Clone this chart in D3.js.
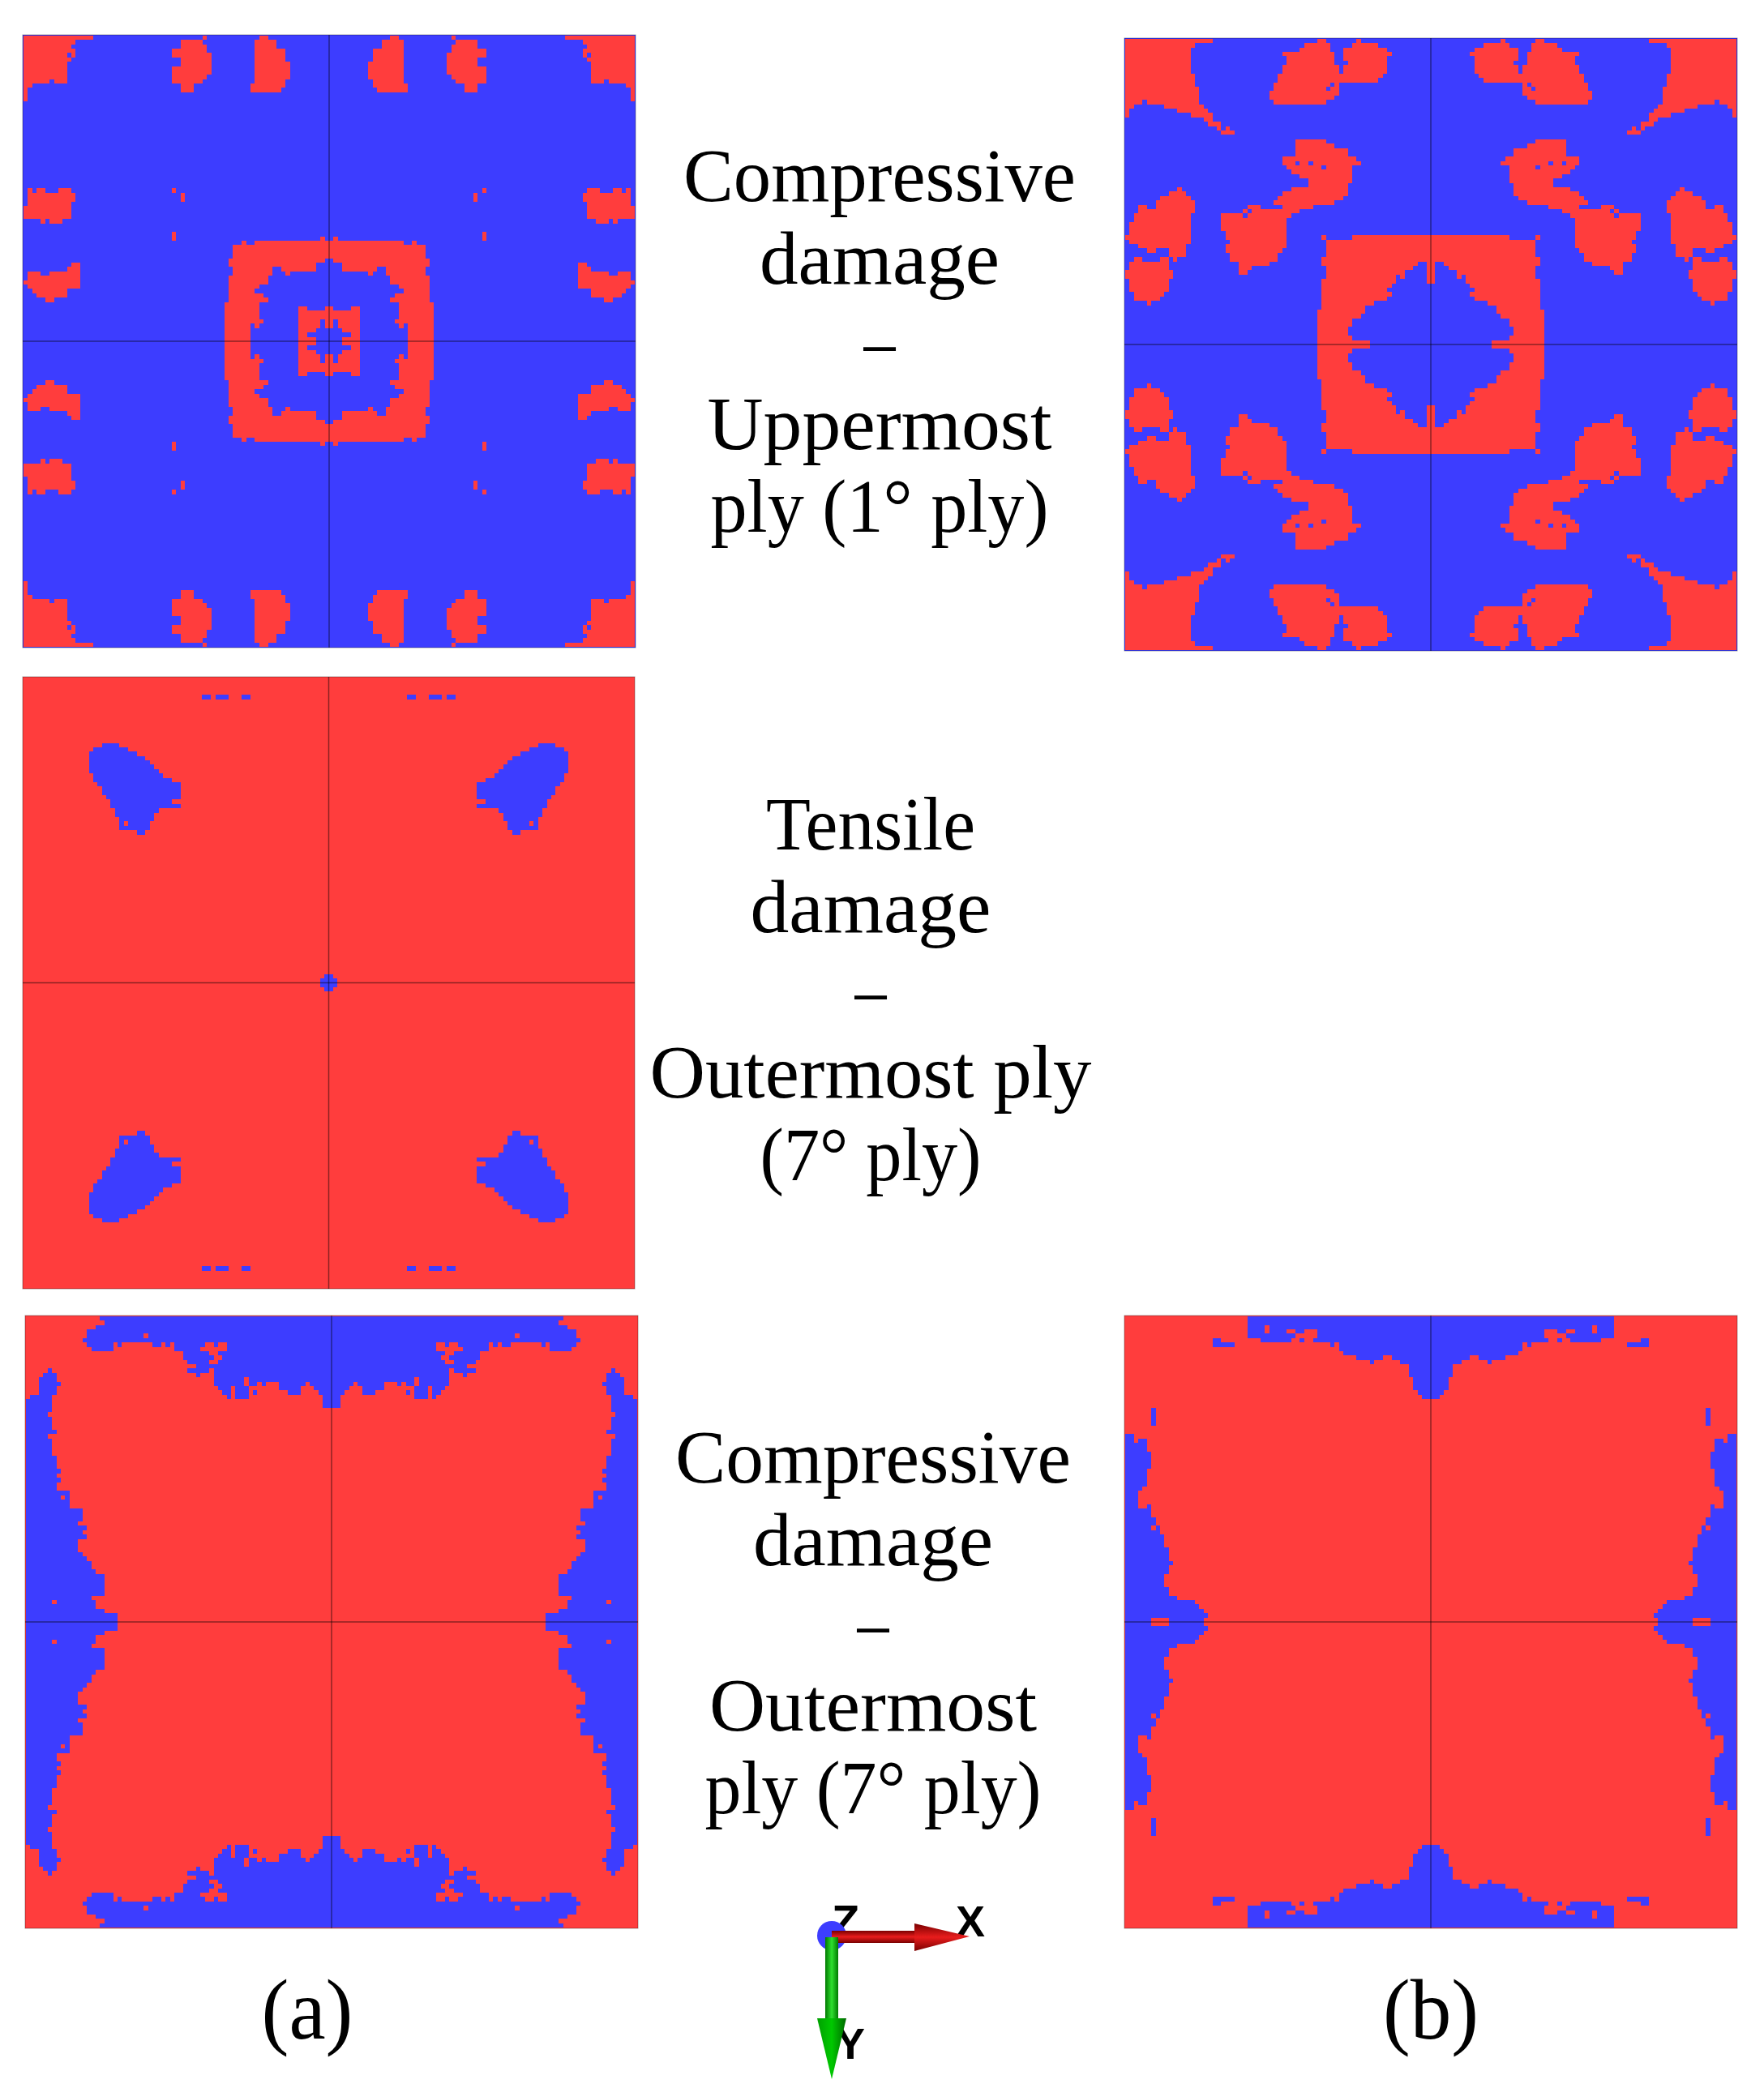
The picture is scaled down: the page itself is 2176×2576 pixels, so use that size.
<!DOCTYPE html>
<html>
<head>
<meta charset="utf-8">
<script src="https://cdn.jsdelivr.net/npm/d3@7"></script>
<style>
  html, body { margin: 0; padding: 0; background: #fff; }
  svg { display: block; }
</style>
</head>
<body>
<svg id="chart" width="2176" height="2576"></svg>
<script>
// small rectangle region, corners in read-off units
function box(x0, y0, x1, y1) {
    return [[x0, y0], [x1, y0], [x1, y1], [x0, y1]];
}

// Regions are traced on the top-left quadrant of every panel, the other three are mirrored.
// Overlapping regions flip the colour, so a region inside a region is a hole.

// (a) compressive damage, uppermost ply: red on blue
const a1Regions = [
    [[25,25],[290,25],[290,40],[225,40],[225,58],[207,58],[207,75],[225,75],[225,108],[207,108],[207,123],[190,123],[190,205],[143,205],[143,190],[125,190],[125,205],[62,205],[62,222],[45,222],[45,270],[25,270]],
    box(190,90,207,108),
    box(685,25,700,40),
    [[603,42],[685,42],[685,58],[700,58],[700,90],[717,90],[717,172],[700,172],[700,188],[685,188],[685,205],[667,205],[667,222],[652,222],[652,240],[603,240],[603,207],[585,207],[585,140],[603,140],[603,108],[585,108],[585,75],[603,75]],
    [[900,25],[930,25],[930,42],[963,42],[963,75],[995,75],[995,123],[1011,123],[1011,188],[995,188],[995,222],[978,222],[978,240],[862,240],[862,207],[880,207],[880,42],[900,42]],
    [[45,585],[62,585],[62,600],[78,600],[78,585],[108,585],[108,600],[160,600],[160,585],[207,585],[207,600],[225,600],[225,648],[207,648],[207,698],[175,698],[175,715],[127,715],[127,700],[110,700],[110,715],[94,715],[94,698],[25,698],[25,650],[45,650]],
    [[585,585],[600,585],[600,600],[634,600],[634,648],[603,648],[603,615],[585,615]],
    box(585,747,602,780),
    [[45,895],[94,895],[94,912],[127,912],[127,895],[190,895],[190,878],[207,878],[207,862],[240,862],[240,958],[190,958],[190,992],[143,992],[143,1010],[110,1010],[110,992],[78,992],[78,975],[62,975],[62,958],[45,958],[45,943],[28,943],[28,928],[45,928]],
    [[798,797],[830,797],[830,780],[847,780],[847,797],[880,797],[880,780],[1127,780],[1127,765],[1143,765],[1143,780],[1170,780],[1170,845],[1143,845],[1143,862],[1110,862],[1110,895],[1012,895],[1012,912],[995,912],[995,895],[978,895],[978,878],[945,878],[945,912],[930,912],[930,943],[897,943],[897,960],[880,960],[880,978],[912,978],[912,995],[930,995],[930,1010],[897,1010],[897,1075],[912,1075],[912,1090],[897,1090],[897,1108],[880,1108],[880,1090],[862,1090],[862,1170],[765,1170],[765,1010],[782,1010],[782,912],[798,912],[798,878],[782,878],[782,845],[798,845]],
    [[1045,1025],[1075,1025],[1075,1043],[1143,1043],[1143,1025],[1170,1025],[1170,1108],[1143,1108],[1143,1075],[1127,1075],[1127,1108],[1110,1108],[1110,1125],[1078,1125],[1078,1143],[1110,1143],[1110,1170],[1045,1170]]
];

// (b) compressive damage, uppermost ply: red on blue
const b1Regions = [
    [[22,22],[352,22],[352,35],[287,35],[287,53],[270,53],[270,152],[287,152],[287,203],[303,203],[303,268],[320,268],[320,285],[337,285],[337,300],[352,300],[352,333],[385,333],[385,365],[402,365],[402,352],[418,352],[418,365],[435,365],[435,383],[385,383],[385,367],[370,367],[370,352],[337,352],[337,335],[320,335],[320,317],[270,317],[270,302],[222,302],[222,285],[172,285],[172,270],[107,270],[107,252],[90,252],[90,268],[58,268],[58,285],[40,285],[40,317],[22,317]],
    [[730,22],[762,22],[762,38],[780,38],[780,70],[795,70],[795,120],[812,120],[812,152],[828,152],[828,120],[845,120],[845,105],[828,105],[828,55],[862,55],[862,38],[878,38],[878,22],[895,22],[895,38],[960,38],[960,55],[995,55],[995,72],[1008,72],[1008,88],[995,88],[995,152],[978,152],[978,170],[960,170],[960,186],[812,186],[812,220],[812,235],[795,235],[795,250],[762,250],[762,268],[580,268],[580,252],[565,252],[565,220],[580,220],[580,186],[598,186],[598,152],[615,152],[615,120],[630,120],[630,88],[615,88],[615,72],[665,72],[665,55],[682,55],[682,38],[730,38]],
    box(762,203,778,220),
    box(778,186,795,203),
    [[650,385],[697,385],[697,400],[713,400],[713,385],[730,385],[730,400],[762,400],[762,417],[795,417],[795,433],[845,433],[845,450],[878,450],[878,466],[895,466],[895,497],[860,497],[860,547],[845,547],[845,595],[828,595],[828,613],[795,613],[795,630],[713,630],[713,647],[665,647],[665,663],[648,663],[648,680],[632,680],[632,792],[615,792],[615,808],[598,808],[598,840],[565,840],[565,857],[500,857],[500,873],[483,873],[483,890],[450,890],[450,842],[418,842],[418,808],[402,808],[402,775],[418,775],[418,760],[402,760],[402,728],[385,728],[385,663],[468,663],[468,648],[483,648],[483,630],[532,630],[532,647],[600,647],[600,630],[580,630],[580,613],[598,613],[598,597],[615,597],[615,581],[648,581],[648,565],[697,565],[697,532],[665,532],[665,515],[648,515],[648,500],[632,500],[632,483],[615,483],[615,450],[650,450]],
    box(664,466,680,482),
    box(697,466,713,482),
    box(747,483,763,499),
    box(467,664,483,680),
    box(483,648,499,664),
    [[222,565],[237,565],[237,580],[255,580],[255,597],[270,597],[270,613],[287,613],[287,662],[270,662],[270,775],[255,775],[255,825],[220,825],[220,842],[205,842],[205,825],[190,825],[190,795],[138,795],[138,808],[107,808],[107,793],[75,793],[75,778],[40,778],[40,762],[22,762],[22,745],[40,745],[40,695],[58,695],[58,662],[75,662],[75,630],[107,630],[107,647],[138,647],[138,613],[155,613],[155,597],[190,597],[190,581],[222,581]],
    [[60,826],[90,826],[90,842],[155,842],[155,826],[188,826],[188,875],[205,875],[205,908],[190,908],[190,955],[172,955],[172,973],[155,973],[155,990],[122,990],[122,1006],[107,1006],[107,990],[58,990],[58,957],[40,957],[40,908],[22,908],[22,875],[40,875],[40,842],[60,842]],
    box(747,745,762,762),
    [[762,762],[860,762],[860,745],[1170,745],[1170,925],[1140,925],[1140,842],[1107,842],[1107,857],[1090,857],[1090,873],[1058,873],[1058,908],[1042,908],[1042,892],[1027,892],[1027,925],[1010,925],[1010,940],[992,940],[992,957],[1008,957],[1008,973],[992,973],[992,990],[943,990],[943,1006],[910,1006],[910,1038],[893,1038],[893,1055],[860,1055],[860,1088],[845,1088],[845,1120],[860,1120],[860,1138],[928,1138],[928,1170],[730,1170],[730,1022],[747,1022],[747,910],[762,910],[762,858],[747,858],[747,825],[762,825]]
];

// (a) tensile damage, outermost ply: blue on red
const a2Regions = [
    [[322,277],[387,277],[387,293],[418,293],[418,310],[452,310],[452,325],[485,325],[485,342],[500,342],[500,358],[518,358],[518,375],[535,375],[535,392],[550,392],[550,408],[582,408],[582,425],[600,425],[600,490],[568,490],[568,522],[535,522],[535,540],[518,540],[518,572],[502,572],[502,603],[485,603],[485,620],[452,620],[452,603],[420,603],[420,587],[387,603],[387,555],[370,555],[370,522],[353,522],[353,490],[338,490],[338,472],[320,472],[320,440],[303,440],[303,425],[288,425],[288,392],[270,392],[270,310],[288,310],[288,293],[322,293]],
    box(402,571,418,587),
    box(582,505,600,522),
    box(682,97,716,113),
    box(732,97,782,113),
    box(830,97,862,113),
    [[1141,1130],[1170,1130],[1170,1170],[1125,1170],[1125,1146],[1141,1146]]
];

// (a) compressive damage, outermost ply: blue on red
const a3Regions = [
    [[298,25],[1160,25],[1160,370],[1118,370],[1118,320],[1102,320],[1102,305],[1085,305],[1085,290],[1068,290],[1068,273],[1052,273],[1052,288],[1037,288],[1037,320],[988,320],[988,305],[955,305],[955,273],[905,273],[905,288],[890,288],[890,273],[873,273],[873,288],[840,288],[840,256],[824,256],[824,288],[840,288],[840,338],[790,338],[790,288],[775,288],[775,338],[758,338],[758,320],[742,320],[742,305],[725,305],[725,288],[710,288],[710,224],[692,224],[692,240],[660,240],[660,256],[645,256],[645,240],[627,240],[627,224],[645,224],[645,208],[627,208],[627,176],[612,176],[612,190],[595,190],[595,157],[578,157],[578,125],[562,125],[562,142],[545,142],[545,125],[530,125],[530,142],[497,142],[497,125],[382,125],[382,142],[365,142],[365,125],[350,125],[350,157],[265,157],[265,142],[250,142],[250,125],[233,125],[233,110],[250,110],[250,77],[282,77],[282,60],[315,60],[315,42],[298,42]],
    [[678,125],[710,125],[710,142],[725,142],[725,125],[757,125],[757,157],[725,157],[725,175],[742,175],[742,190],[725,190],[725,207],[692,207],[692,190],[710,190],[710,175],[692,175],[692,157],[678,157]],
    box(660,142,678,157),
    box(463,92,479,108),
    box(855,305,873,320),
    [[20,338],[37,338],[37,320],[70,320],[70,256],[87,256],[87,240],[103,240],[103,224],[120,224],[120,240],[135,240],[135,272],[153,272],[153,288],[135,288],[135,320],[120,320],[120,387],[103,387],[103,403],[120,403],[120,452],[135,452],[135,468],[103,468],[103,485],[120,485],[120,550],[135,550],[135,598],[153,598],[153,615],[135,615],[135,632],[153,632],[153,648],[135,648],[135,665],[168,665],[168,680],[185,680],[185,730],[233,730],[233,780],[217,780],[217,797],[250,797],[250,812],[233,812],[233,828],[250,828],[250,845],[217,845],[217,893],[233,893],[233,910],[250,910],[250,928],[265,928],[265,960],[283,960],[283,978],[315,978],[315,1058],[265,1058],[265,1075],[283,1075],[283,1108],[315,1108],[315,1123],[365,1123],[365,1170],[20,1170]],
    box(120,1077,136,1092),
    box(153,682,168,698)
];

// (b) compressive damage, outermost ply: blue on red
const b3Regions = [
    [[480,25],[1160,25],[1160,338],[1120,338],[1120,322],[1103,322],[1103,305],[1088,305],[1088,256],[1070,256],[1070,208],[1037,208],[1037,190],[1005,190],[1005,175],[972,175],[972,190],[940,190],[940,208],[925,208],[925,190],[875,190],[875,175],[825,175],[825,157],[808,157],[808,125],[792,125],[792,142],[775,142],[775,125],[710,125],[710,108],[725,108],[725,77],[678,77],[678,92],[645,92],[645,108],[628,108],[628,125],[530,125],[530,108],[480,108]],
    box(660,108,678,125),
    box(545,60,562,92),
    box(612,77,645,92),
    [[350,108],[382,108],[382,125],[432,125],[432,142],[350,142]],
    [[20,467],[53,467],[53,500],[70,500],[70,485],[103,485],[103,533],[120,533],[120,598],[103,598],[103,650],[87,650],[87,665],[70,665],[70,730],[103,730],[103,715],[120,715],[120,765],[135,765],[135,797],[152,797],[152,828],[168,828],[168,878],[185,878],[185,930],[202,930],[202,945],[185,945],[185,978],[168,978],[168,1025],[185,1025],[185,1058],[218,1058],[218,1075],[283,1075],[283,1090],[298,1090],[298,1107],[315,1107],[315,1123],[333,1123],[333,1140],[315,1140],[315,1170],[20,1170]],
    box(120,1141,185,1170),
    box(120,797,135,812),
    box(120,370,135,435)
];

const labelLines1 = ["Compressive", "damage", "–", "Uppermost", "ply (1° ply)"];
const labelLines2 = ["Tensile", "damage", "–", "Outermost ply", "(7° ply)"];
const labelLines3 = ["Compressive", "damage", "–", "Outermost", "ply (7° ply)"];
const columnLabels = ["(a)", "(b)"];

const RED = "#FF3D3D";
const BLUE = "#3D3DFF";
const CELL = 16.15;       // one mesh element in read-off units
const HALF = 1133;        // half a panel in read-off units

// cx, cy is where the panel centre sits in read-off units, left/top/size on the page
const panels = [
    {regions: a1Regions, base: BLUE, flip: RED,  cx: 1160, cy: 1157, left: 28,   top: 43,   size: 756},
    {regions: b1Regions, base: BLUE, flip: RED,  cx: 1157, cy: 1152, left: 1387, top: 47,   size: 756},
    {regions: a2Regions, base: RED,  flip: BLUE, cx: 1157, cy: 1162, left: 28,   top: 835,  size: 755},
    {regions: a3Regions, base: RED,  flip: BLUE, cx: 1152, cy: 1157, left: 31,   top: 1623, size: 756},
    {regions: b3Regions, base: RED,  flip: BLUE, cx: 1152, cy: 1157, left: 1387, top: 1623, size: 756}
];

const svg = d3.select("#chart");

function drawPanel(p) {
    const scX = d3.scaleLinear()
        .domain([p.cx - HALF, p.cx + HALF])
        .range([p.left, p.left + p.size])
        .clamp(true);
    const scY = d3.scaleLinear()
        .domain([p.cy - HALF, p.cy + HALF])
        .range([p.top, p.top + p.size])
        .clamp(true);

    const g = svg.append("g");

    g.append("rect")
        .attr("x", scX.range()[0])
        .attr("y", scY.range()[0])
        .attr("width", p.size)
        .attr("height", p.size)
        .attr("fill", p.base);

    // rasterise on the mesh, one run of cells per row
    const n = Math.ceil(HALF / CELL);
    const path = d3.path();
    for (let row = -n; row < n; row++) {
        const v = p.cy + (row + 0.5) * CELL;
        const fv = Math.min(v, 2 * p.cy - v);
        let start = null;
        for (let col = -n; col <= n; col++) {
            const u = p.cx + (col + 0.5) * CELL;
            const fu = Math.min(u, 2 * p.cx - u);
            let odd = false;
            if (col < n) {
                p.regions.forEach(r => {
                    if (d3.polygonContains(r, [fu, fv])) odd = !odd;
                });
            }
            if (odd && start === null) start = col;
            if (!odd && start !== null) {
                const x0 = scX(p.cx + start * CELL);
                const x1 = scX(p.cx + col * CELL);
                const y0 = scY(p.cy + row * CELL);
                const y1 = scY(p.cy + (row + 1) * CELL);
                path.rect(x0, y0, x1 - x0, y1 - y0);
                start = null;
            }
        }
    }
    g.append("path")
        .attr("d", path.toString())
        .attr("fill", p.flip)
        .attr("shape-rendering", "crispEdges");

    // centre lines and thin frame
    g.append("line")
        .attr("x1", scX(p.cx)).attr("x2", scX(p.cx))
        .attr("y1", p.top).attr("y2", p.top + p.size)
        .attr("stroke", "#000").attr("stroke-opacity", 0.45).attr("stroke-width", 1.5);
    g.append("line")
        .attr("x1", p.left).attr("x2", p.left + p.size)
        .attr("y1", scY(p.cy)).attr("y2", scY(p.cy))
        .attr("stroke", "#000").attr("stroke-opacity", 0.45).attr("stroke-width", 1.5);
    g.append("rect")
        .attr("x", p.left)
        .attr("y", p.top)
        .attr("width", p.size)
        .attr("height", p.size)
        .attr("fill", "none")
        .attr("stroke", "#000")
        .attr("stroke-opacity", 0.35)
        .attr("stroke-width", 1);
}

panels.forEach(drawPanel);

// widths stretch the serif to the wider face of the original
function drawLabel(lines, x, firstBaseline, widths, size) {
    svg.append("g")
        .selectAll("text")
        .data(lines)
        .enter()
        .append("text")
        .attr("x", x)
        .attr("y", (d, i) => firstBaseline + i * 102)
        .attr("text-anchor", "middle")
        .attr("font-family", "'Liberation Serif', serif")
        .attr("font-size", size)
        .attr("fill", "#000")
        .attr("textLength", (d, i) => widths[i])
        .attr("lengthAdjust", "spacingAndGlyphs")
        .text(d => d);
}

drawLabel(labelLines1, 1085, 248, [484, 296, 39, 425, 417], 93);
drawLabel(labelLines2, 1074, 1048, [258, 297, 39, 545, 273], 93);
drawLabel(labelLines3, 1077, 1829, [488, 296, 39, 404, 415], 93);
drawLabel([columnLabels[0]], 379, 2515, [113], 106);
drawLabel([columnLabels[1]], 1765, 2515, [118], 106);

// axis triad
function drawTriad() {
    const defs = svg.append("defs");
    const grad = (id, dir, stops) => {
        const lg = defs.append("linearGradient")
            .attr("id", id)
            .attr("x1", 0).attr("y1", 0)
            .attr("x2", dir === "h" ? 1 : 0)
            .attr("y2", dir === "h" ? 0 : 1);
        stops.forEach((c, i) => lg.append("stop")
            .attr("offset", i / (stops.length - 1))
            .attr("stop-color", c));
    };
    grad("redGrad", "v", ["#7a0000", "#e81c1c", "#7a0000"]);
    grad("greenGrad", "h", ["#007a00", "#2fe02f", "#007a00"]);
    grad("greenHead", "h", ["#00a000", "#00c800", "#006a00"]);

    const t = svg.append("g");
    const letter = (txt, x, y, size) => t.append("text")
        .attr("x", x).attr("y", y)
        .attr("text-anchor", "middle")
        .attr("font-family", "'Liberation Sans', sans-serif")
        .attr("font-weight", "bold")
        .attr("font-size", size)
        .attr("fill", "#000")
        .text(txt);

    letter("Z", 1043, 2389, 56);
    letter("X", 1197, 2389, 54);
    letter("Y", 1049, 2540, 54);

    t.append("circle").attr("cx", 1026).attr("cy", 2388).attr("r", 18).attr("fill", BLUE);
    t.append("rect").attr("x", 1026).attr("y", 2382).attr("width", 102).attr("height", 15).attr("fill", "url(#redGrad)");
    t.append("path").attr("d", "M1128,2373L1196,2389L1128,2407Z").attr("fill", "url(#redGrad)");
    t.append("rect").attr("x", 1018).attr("y", 2390).attr("width", 16).attr("height", 100).attr("fill", "url(#greenGrad)");
    t.append("path").attr("d", "M1008,2490L1044,2490L1026,2565Z").attr("fill", "url(#greenHead)");
}
drawTriad();
</script>
</body>
</html>
